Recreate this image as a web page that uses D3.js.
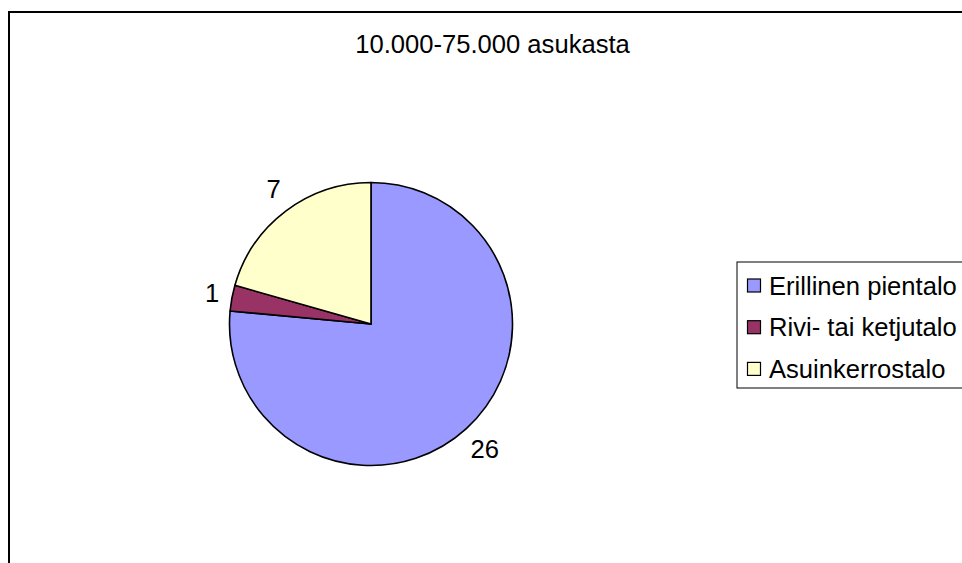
<!DOCTYPE html>
<meta charset="utf-8">
<style>
    body { margin: 0; background: #fff; }
    text { font-family: "Liberation Sans", Arial, sans-serif; fill: #000; }
</style>
<body>
<script src="https://d3js.org/d3.v7.min.js"></script>
<script>
    // data
    var title = "10.000-75.000 asukasta";
    var categories = ["Erillinen pientalo", "Rivi- tai ketjutalo", "Asuinkerrostalo"];
    var values = [26, 1, 7];
    var colors = ["#9999ff", "#993366", "#ffffcc"];

    var width = 962, height = 563;
    var fontSize = 25.6;

    var svg = d3.select("body").append("svg")
        .attr("width", width)
        .attr("height", height);

    // chart frame (runs off the right / bottom edge)
    svg.append("rect")
        .attr("x", 9).attr("y", 12)
        .attr("width", 1000).attr("height", 600)
        .attr("fill", "#fff")
        .attr("stroke", "#000")
        .attr("stroke-width", 2);

    svg.append("text")
        .attr("x", 492.5)
        .attr("y", 53.3)
        .attr("text-anchor", "middle")
        .style("font-size", fontSize + "px")
        .text(title);

    // pie
    var cx = 371, cy = 324, r = 141.5;
    var color = d3.scaleOrdinal().domain(categories).range(colors);

    var pie = d3.pie().sort(null).value(function (d) { return d.value; });
    var arc = d3.arc().innerRadius(0).outerRadius(r);

    var data = categories.map(function (c, i) { return { name: c, value: values[i] }; });
    var arcs = pie(data);

    var g = svg.append("g").attr("transform", "translate(" + cx + "," + cy + ")");

    g.selectAll("path.slice")
        .data(arcs)
        .enter().append("path")
        .attr("class", "slice")
        .attr("d", arc)
        .attr("fill", function (d) { return color(d.data.name); })
        .attr("stroke", "#000")
        .attr("stroke-width", 1.6)
        .attr("stroke-linejoin", "round");

    // value labels outside the pie
    var labelR = r + 13;
    var lineH = fontSize * 1.15;
    g.selectAll("text.lbl")
        .data(arcs)
        .enter().append("text")
        .attr("class", "lbl")
        .style("font-size", fontSize + "px")
        .attr("text-anchor", "middle")
        .text(function (d) { return d.data.value; })
        .each(function (d) {
            var a = (d.startAngle + d.endAngle) / 2;
            var w = this.getComputedTextLength();
            var sx = Math.sin(a), cyA = -Math.cos(a);
            var x = labelR * sx + w / 2 * sx;
            var y = labelR * cyA + lineH / 2 * cyA;
            d3.select(this)
                .attr("x", x)
                .attr("y", y + fontSize * 0.358);
        });

    // legend
    var legendX = 737, legendY = 262;
    svg.append("rect")
        .attr("x", legendX).attr("y", legendY)
        .attr("width", 300).attr("height", 126)
        .attr("fill", "#fff")
        .attr("stroke", "#000")
        .attr("stroke-width", 1);

    var legend = svg.selectAll(".legend")
        .data(categories)
        .enter().append("g")
        .attr("class", "legend")
        .attr("transform", function (d, i) {
            return "translate(" + legendX + "," + (legendY + 23 + i * 41.7) + ")";
        });

    legend.append("rect")
        .attr("x", 10.5)
        .attr("y", -6)
        .attr("width", 13)
        .attr("height", 13)
        .attr("fill", function (d) { return color(d); })
        .attr("stroke", "#000")
        .attr("stroke-width", 1.2);

    legend.append("text")
        .attr("x", 32)
        .attr("y", 9.5)
        .style("font-size", fontSize + "px")
        .text(function (d) { return d; });
</script>
</body>
